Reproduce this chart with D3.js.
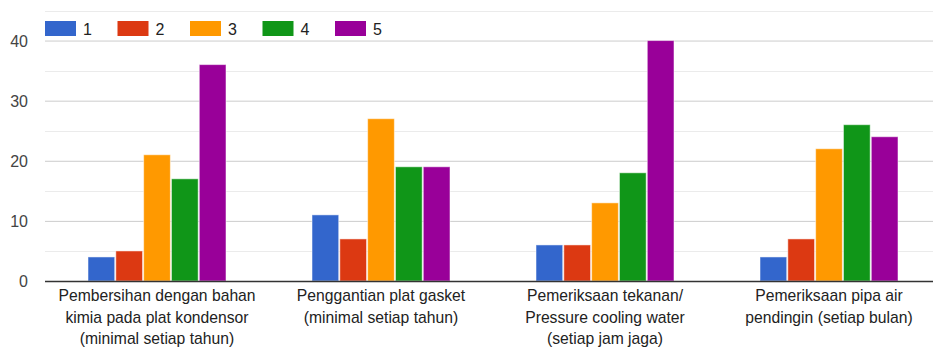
<!DOCTYPE html>
<html>
<head>
<meta charset="utf-8">
<script src="https://cdn.jsdelivr.net/npm/d3@7"></script>
<style>
  html, body { margin: 0; padding: 0; background: #fff; overflow: hidden; }
  svg { display: block; font-family: "Liberation Sans", Arial, sans-serif; }
</style>
</head>
<body>
<svg id="chart" width="933" height="354"></svg>
<script>
// Survey responses per rating (1–5) for each maintenance activity
const categories = [
  ["Pembersihan dengan bahan", "kimia pada plat kondensor", "(minimal setiap tahun)"],
  ["Penggantian plat gasket", "(minimal setiap tahun)"],
  ["Pemeriksaan tekanan/", "Pressure cooling water", "(setiap jam jaga)"],
  ["Pemeriksaan pipa air", "pendingin (setiap bulan)"]
];
const seriesNames = ["1", "2", "3", "4", "5"];
const series1 = [4, 11, 6, 4];
const series2 = [5, 7, 6, 7];
const series3 = [21, 27, 13, 22];
const series4 = [17, 19, 18, 26];
const series5 = [36, 19, 40, 24];
const yTicks = [0, 10, 20, 30, 40];
const yMinorTicks = [5, 15, 25, 35, 45];
const colors = ["#3366cc", "#dc3912", "#ff9900", "#109618", "#990099"];

const seriesValues = [series1, series2, series3, series4, series5];

const svg = d3.select("#chart");
const plotLeft = 45, plotRight = 941, plotTop = 10.5, plotBottom = 281;

const x0 = d3.scaleBand()
  .domain(d3.range(categories.length))
  .range([plotLeft, plotRight])
  .paddingInner(0.384)
  .paddingOuter(0.192);

const x1 = d3.scaleBand()
  .domain(d3.range(seriesNames.length))
  .range([0, x0.bandwidth()])
  .paddingInner(0.04);

const y = d3.scaleLinear().domain([0, 45]).range([plotBottom, plotTop]);

// minor gridlines
svg.append("g").selectAll("line").data(yMinorTicks).join("line")
  .attr("x1", plotLeft).attr("x2", 933)
  .attr("y1", d => Math.round(y(d)) + 0.5).attr("y2", d => Math.round(y(d)) + 0.5)
  .attr("stroke", "#ebebeb").attr("stroke-width", 1);

// major gridlines + labels via axis
const yAxis = d3.axisLeft(y).tickValues(yTicks).tickSize(-(933 - plotLeft)).tickPadding(17);
const gy = svg.append("g").attr("transform", `translate(${plotLeft},0)`).call(yAxis);
gy.select(".domain").remove();
gy.selectAll(".tick line").attr("stroke", "#cccccc");
gy.selectAll(".tick text").attr("fill", "#444").attr("font-size", 16)
  .attr("font-family", "Liberation Sans, Arial, sans-serif")
  .attr("dy", "0.36em");

// bars
const groups = svg.append("g").selectAll("g").data(categories).join("g")
  .attr("transform", (d, i) => `translate(${x0(i)},0)`);

groups.selectAll("rect")
  .data((d, i) => seriesValues.map((s, k) => ({ k, v: s[i] })))
  .join("rect")
  .attr("x", d => x1(d.k))
  .attr("width", x1.bandwidth())
  .attr("y", d => y(d.v))
  .attr("height", d => plotBottom - y(d.v))
  .attr("fill", d => colors[d.k])
  .attr("stroke", "#ffffff")
  .attr("stroke-opacity", 0.5)
  .attr("stroke-width", 1);

// baseline
svg.append("line")
  .attr("x1", plotLeft).attr("x2", 933)
  .attr("y1", plotBottom + 0.5).attr("y2", plotBottom + 0.5)
  .attr("stroke", "#333").attr("stroke-width", 1.5);

// category labels
const xl = svg.append("g").selectAll("text").data(categories).join("text")
  .attr("x", (d, i) => x0(i) + x0.bandwidth() / 2)
  .attr("y", 301)
  .attr("text-anchor", "middle")
  .attr("font-size", 15.7)
  .attr("fill", "#222");
xl.selectAll("tspan").data(d => d).join("tspan")
  .attr("x", function() { return d3.select(this.parentNode).attr("x"); })
  .attr("dy", (d, j) => j === 0 ? 0 : 21.5)
  .text(d => d);

// legend
const legend = svg.append("g").selectAll("g").data(seriesNames).join("g")
  .attr("transform", (d, i) => `translate(${45 + i * 72.5},21)`);
legend.append("rect")
  .attr("width", 31).attr("height", 15)
  .attr("fill", (d, i) => colors[i]);
legend.append("text")
  .attr("x", 38).attr("y", 13.5)
  .attr("font-size", 16).attr("fill", "#222")
  .text(d => d);
</script>
</body>
</html>
